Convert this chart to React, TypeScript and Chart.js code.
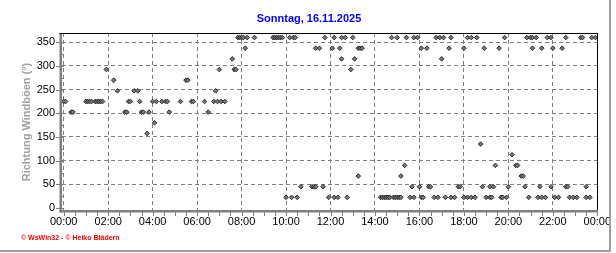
import React, { useEffect, useRef } from 'react';
import { Chart, registerables } from 'chart.js';

Chart.register(...registerables);

const TITLE = 'Sonntag, 16.11.2025';
const Y_TITLE = 'Richtung Windböen (°)';
const FOOTER = '© WsWin32 - © Heiko Blädern';

// observation times (HH:MM)
const times = [
  '00:00','00:05','00:20','00:25','01:00','01:05','01:10','01:15','01:25','01:30',
  '01:35','01:40','01:45','01:55','02:15','02:25','02:45','02:50','02:55','03:00',
  '03:10','03:20','03:25','03:30','03:35','03:45','03:50','04:00','04:05','04:10',
  '04:25','04:35','04:40','04:45','05:15','05:30','05:35','05:45','05:50','06:20',
  '06:30','06:45','06:50','06:55','07:00','07:05','07:15','07:35','07:40','07:45',
  '07:50','07:55','08:00','08:05','08:10','08:15','08:35','09:25','09:30','09:35',
  '09:40','09:45','09:50','10:00','10:10','10:15','10:20','10:25','10:30','10:40',
  '11:10','11:15','11:20','11:20','11:30','11:40','11:45','11:55','12:05','12:10',
  '12:10','12:20','12:25','12:30','12:30','12:40','12:45','12:55','13:00','13:05',
  '13:15','13:15','13:20','13:25','14:15','14:20','14:25','14:30','14:35','14:40',
  '14:45','14:50','14:55','15:00','15:00','15:05','15:10','15:10','15:20','15:25',
  '15:35','15:40','15:45','15:45','15:55','16:00','16:05','16:05','16:10','16:20',
  '16:25','16:30','16:40','16:45','16:50','16:55','17:00','17:05','17:10','17:20',
  '17:25','17:25','17:35','17:45','17:50','18:00','18:00','18:10','18:10','18:20',
  '18:20','18:30','18:35','18:45','18:50','18:55','19:00','19:10','19:10','19:15',
  '19:20','19:25','19:35','19:40','19:45','19:50','19:55','20:00','20:10','20:20',
  '20:25','20:35','20:40','20:45','20:50','20:55','21:00','21:05','21:05','21:15',
  '21:20','21:25','21:30','21:30','21:40','21:45','21:55','21:55','22:00','22:05',
  '22:15','22:25','22:35','22:35','22:40','22:45','22:55','23:05','23:15','23:20',
  '23:30','23:30','23:40','23:45','23:55',
];

// gust direction in degrees
const directions = [
  225,225,202.5,202.5,225,225,225,225,225,225,
  225,225,225,292.5,270,247.5,202.5,202.5,225,225,
  247.5,247.5,225,202.5,202.5,157.5,202.5,225,180,225,
  225,225,225,202.5,225,270,270,225,225,225,
  202.5,225,247.5,225,292.5,225,225,315,292.5,292.5,
  360,360,360,360,337.5,360,360,360,360,360,
  360,360,360,22.5,360,22.5,360,360,22.5,45,
  45,45,45,337.5,337.5,45,360,22.5,337.5,22.5,
  360,22.5,337.5,315,360,360,22.5,292.5,360,315,
  337.5,67.5,337.5,337.5,22.5,22.5,22.5,22.5,22.5,22.5,
  360,22.5,22.5,22.5,360,22.5,22.5,67.5,90,360,
  22.5,45,22.5,360,360,45,22.5,337.5,22.5,337.5,
  45,45,22.5,360,22.5,360,315,360,22.5,337.5,
  22.5,360,22.5,45,45,22.5,337.5,22.5,360,22.5,
  360,22.5,360,135,45,337.5,22.5,22.5,45,22.5,
  45,90,337.5,22.5,22.5,360,22.5,45,112.5,90,
  90,67.5,67.5,45,360,22.5,360,360,337.5,360,
  22.5,45,22.5,337.5,22.5,360,360,45,337.5,22.5,
  22.5,337.5,360,45,45,22.5,22.5,22.5,360,360,
  45,22.5,22.5,360,360,
];

// axis ticks
const xTickMinutes = [0, 30, 60, 90, 120, 150, 180, 210, 240, 270, 300, 330, 360, 390, 420, 450, 480, 510, 540, 570, 600, 630, 660, 690, 720, 750, 780, 810, 840, 870, 900, 930, 960, 990, 1020, 1050, 1080, 1110, 1140, 1170, 1200, 1230, 1260, 1290, 1320, 1350, 1380, 1410, 1440];
const xTickLabels = ['00:00', '02:00', '04:00', '06:00', '08:00', '10:00', '12:00', '14:00', '16:00', '18:00', '20:00', '22:00', '00:00'];
const yTickValues = [0, 25, 50, 75, 100, 125, 150, 175, 200, 225, 250, 275, 300, 325, 350];
const yTickLabels = ['0', '50', '100', '150', '200', '250', '300', '350'];

const FONT = '"Liberation Sans", Arial, sans-serif';

const toMinutes = (s: string) => {
  const [h, m] = s.split(':').map(Number);
  return h * 60 + m;
};

const decor = {
  id: 'decor',
  beforeDraw(chart: any) {
    const { ctx, width, height } = chart;
    ctx.save();
    ctx.fillStyle = '#ffffff';
    ctx.fillRect(0, 0, width, height);
    ctx.restore();
  },
  afterDraw(chart: any) {
    const { ctx, chartArea: a, scales } = chart;
    const x = scales.x;
    const y = scales.y;
    ctx.save();
    // ticks
    ctx.strokeStyle = '#808080';
    ctx.lineWidth = 1;
    ctx.beginPath();
    xTickMinutes.forEach((v) => {
      const px = Math.round(x.getPixelForValue(v)) + 0.5;
      ctx.moveTo(px, a.bottom + 1);
      ctx.lineTo(px, a.bottom + 5);
    });
    yTickValues.forEach((v) => {
      const py = Math.round(y.getPixelForValue(v)) + 0.5;
      ctx.moveTo(a.left, py);
      ctx.lineTo(a.left + 2, py);
      if (v % 50 === 0) {
        ctx.moveTo(a.left - 6, py);
        ctx.lineTo(a.left - 2, py);
      }
    });
    ctx.stroke();
    // frame
    ctx.fillStyle = '#808080';
    ctx.fillRect(a.left - 2.5, a.top, 2.5, a.bottom - a.top + 1.5);
    ctx.fillRect(a.left - 2.5, a.bottom - 1, a.right - a.left + 2.5, 2.5);
    ctx.fillStyle = '#000000';
    ctx.fillRect(a.left - 2.5, a.top, a.right - a.left + 2.5, 1);
    ctx.fillRect(a.right - 1, a.top, 1, a.bottom - a.top - 1);
    // page frame
    ctx.fillStyle = '#a0a0a0';
    ctx.fillRect(609, 0, 2, 252);
    ctx.fillRect(0, 250, 611, 2);
    // title
    ctx.fillStyle = '#0000ff';
    ctx.font = 'bold 11px ' + FONT;
    ctx.textAlign = 'center';
    ctx.textBaseline = 'middle';
    ctx.fillText(TITLE, 309, 19);
    // y title
    ctx.save();
    ctx.translate(27, (a.top + a.bottom) / 2);
    ctx.rotate(-Math.PI / 2);
    ctx.fillStyle = '#a0a0a0';
    ctx.font = 'bold 11px ' + FONT;
    ctx.fillText(Y_TITLE, 0, 0);
    ctx.restore();
    // footer
    ctx.fillStyle = '#ff0000';
    ctx.font = 'bold 7px ' + FONT;
    ctx.textAlign = 'left';
    ctx.fillText(FOOTER, 21, 238);
    ctx.restore();
  },
};

export default function App() {
  const ref = useRef<HTMLCanvasElement | null>(null);

  useEffect(() => {
    if (!ref.current) return;
    const points = times.map((t, i) => ({ x: toMinutes(t), y: directions[i] }));
    const chart = new Chart(ref.current, {
      type: 'scatter',
      data: {
        datasets: [
          {
            label: Y_TITLE,
            data: points,
            pointStyle: 'rectRot',
            pointRadius: 2.3,
            pointBackgroundColor: '#7a7a7a',
            pointBorderColor: '#2a2a2a',
            pointBorderWidth: 1,
            clip: false as any,
          },
        ],
      },
      options: {
        responsive: false,
        animation: false,
        layout: { padding: { left: 0, right: 18, top: 33, bottom: 0 } },
        plugins: {
          legend: { display: false },
          tooltip: { enabled: false },
          title: { display: false },
        },
        scales: {
          x: {
            type: 'linear',
            min: -4.6,
            max: 1441.9,
            afterBuildTicks: (s: any) => {
              s.ticks = xTickMinutes.map((v) => ({ value: v }));
            },
            afterFit: (s: any) => {
              s.height = 42;
            },
            grid: {
              color: (c: any) => (c.tick && c.tick.value % 120 === 0 ? '#808080' : 'rgba(0,0,0,0)'),
              lineWidth: 1,
              drawTicks: false,
            },
            border: { display: false, dash: [4, 3] },
            ticks: {
              autoSkip: false,
              maxRotation: 0,
              minRotation: 0,
              padding: 4,
              color: '#000000',
              font: { family: FONT, size: 11 },
              callback: (v: any) => (Number(v) % 120 === 0 ? xTickLabels[Number(v) / 120] : ''),
            },
          },
          y: {
            type: 'linear',
            min: -6.3,
            max: 369.6,
            afterBuildTicks: (s: any) => {
              s.ticks = yTickValues.map((v) => ({ value: v }));
            },
            afterFit: (s: any) => {
              s.width = 62;
            },
            grid: {
              color: (c: any) =>
                c.tick && c.tick.value % 50 === 0 && c.tick.value > 0 ? '#808080' : 'rgba(0,0,0,0)',
              lineWidth: 1,
              drawTicks: false,
            },
            border: { display: false, dash: [4, 3] },
            ticks: {
              autoSkip: false,
              padding: 7,
              color: '#000000',
              font: { family: FONT, size: 11 },
              callback: (v: any) => (Number(v) % 50 === 0 ? yTickLabels[Number(v) / 50] : ''),
            },
          },
        },
      },
      plugins: [decor],
    });
    return () => chart.destroy();
  }, []);

  return (
    <div style={{ position: 'fixed', left: 0, top: 0, width: 616, height: 253, background: '#fff' }}>
      <canvas ref={ref} width={616} height={253} style={{ display: 'block' }} />
    </div>
  );
}
